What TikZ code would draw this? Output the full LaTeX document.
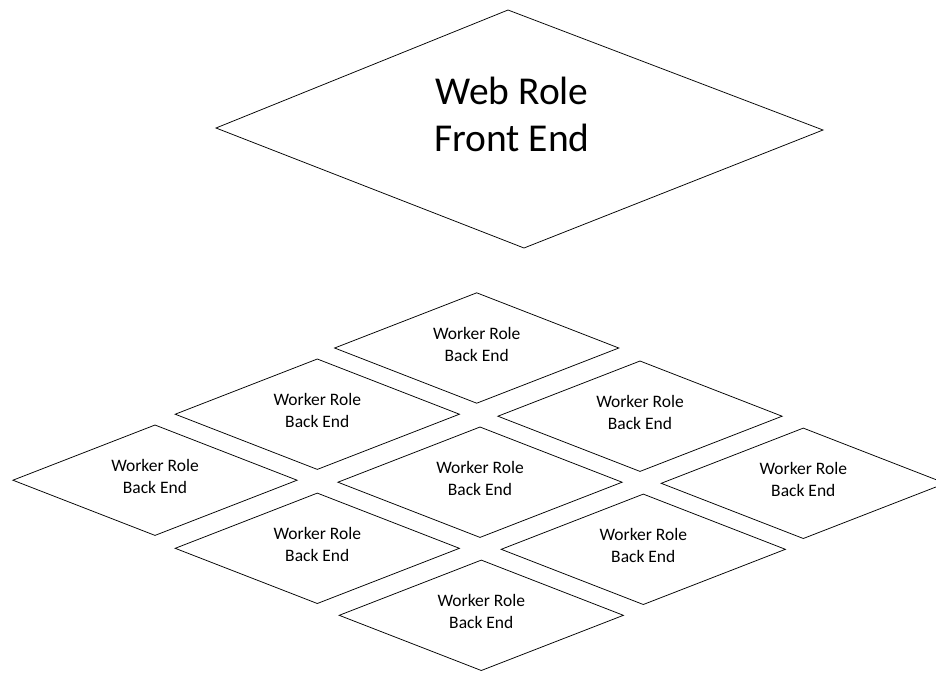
\documentclass[tikz,border=0pt]{standalone}
\usepackage{fontspec}
\setmainfont{Carlito}
\usetikzlibrary{shapes.geometric}
\begin{document}
\begin{tikzpicture}[x=1pt,y=-1pt,
  tile/.style={diamond, shape aspect=2.57, draw=black, line width=0.75pt,
    minimum width=284.5pt, minimum height=110.7pt, inner sep=0pt,
    label={[tiletext]center:Worker Role\\Back End}},
  tiletext/.style={align=center, inner sep=0pt, yshift=3.5pt,
    font=\fontsize{17.5}{22}\selectfont},
  frame/.style={draw=black, line width=0.75pt, line join=miter},
  bigtext/.style={align=center, inner sep=0pt,
    font=\fontsize{39.5}{47}\selectfont}]
\useasboundingbox (0,0) rectangle (936,673);

% front-end diamond
\coordinate (wt) at (508,10);
\coordinate (wr) at (823,130);
\coordinate (wb) at (524,248);
\coordinate (wl) at (216,128);
\draw[frame] (wt) -- (wr) -- (wb) -- (wl) -- cycle;
\node[bigtext] (web) at (512,114.5) {Web Role\\Front End};

% back-end grid of worker tiles
\node[tile] (w1) at (476.7,348.0) {};
\node[tile] (w2) at (317.3,414.2) {};
\node[tile] (w3) at (640.0,416.2) {};
\node[tile] (w4) at (155.0,480.2) {};
\node[tile] (w5) at (480.0,482.2) {};
\node[tile] (w6) at (803.3,483.3) {};
\node[tile] (w7) at (317.3,548.3) {};
\node[tile] (w8) at (643.3,549.3) {};
\node[tile] (w9) at (481.3,615.3) {};
\end{tikzpicture}
\end{document}
